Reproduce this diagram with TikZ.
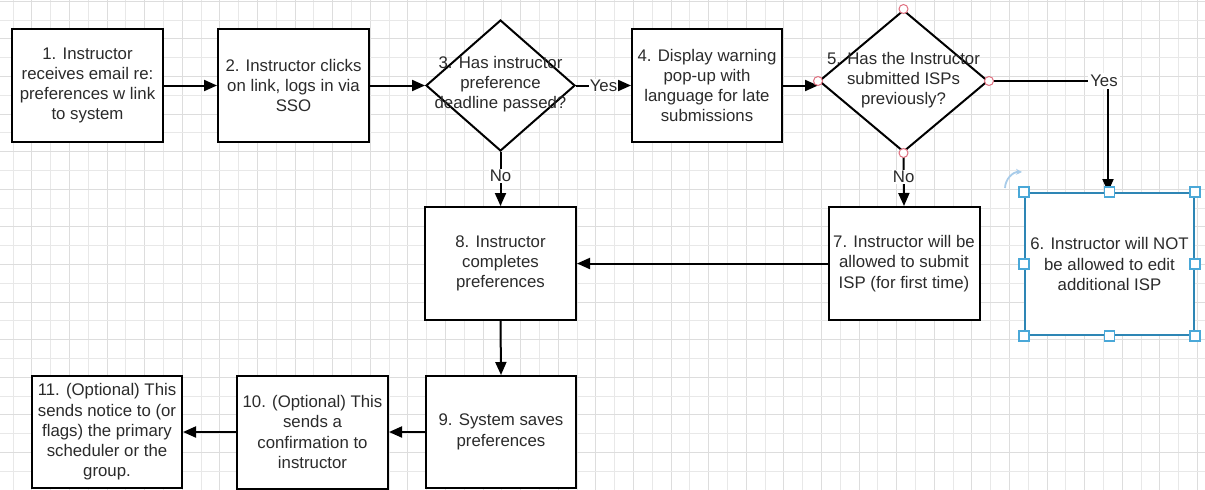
\documentclass[tikz,border=0pt]{standalone}
\usepackage{fontspec}
\setmainfont{Liberation Sans}
\usetikzlibrary{arrows.meta,shapes.geometric}
\definecolor{txtgray}{HTML}{2B2B2B}
\definecolor{gridA}{HTML}{E8E8E8}
\definecolor{gridB}{HTML}{DDDDDD}
\definecolor{selblue}{HTML}{2E86B5}
\definecolor{handleblue}{HTML}{4AA8D8}
\definecolor{rotblue}{HTML}{A8CCEA}
\definecolor{ptred}{HTML}{E07080}
\tikzset{
  stepbox/.style={draw=black, line width=2pt, fill=white, minimum width=151pt, minimum height=113pt,
    inner sep=0pt, align=center, text=txtgray, font=\fontsize{16.8}{20.3}\selectfont},
  decision/.style={diamond, draw=black, line width=2pt, fill=white, inner sep=0pt},
  dtext/.style={align=center, text=txtgray, font=\fontsize{16.8}{20.3}\selectfont},
  conn/.style={draw=black, line width=2pt, -{Triangle[length=13pt,width=11pt]}},
  plain/.style={draw=black, line width=2pt},
  elabel/.style={fill=white, inner sep=1pt, text=txtgray, font=\fontsize{16.8}{20.3}\selectfont},
  vpoint/.style={circle, draw=ptred, fill=white, line width=1pt, minimum size=9pt, inner sep=0pt},
  handle/.style={rectangle, draw=handleblue, fill=white, line width=1.2pt, minimum size=10pt, inner sep=0pt},
  gridlight/.style={draw=gridA, line width=1pt},
  griddark/.style={draw=gridB, line width=1pt},
}
\begin{document}
\begin{tikzpicture}[x=1pt, y=-1pt]
\useasboundingbox (0,0) rectangle (1205,490);
\fill[white] (0,0) rectangle (1205,490);
% grid
\foreach \i in {0,...,64} {
  \pgfmathsetmacro{\gx}{round(12.5+18.8*\i)+0.5}
  \pgfmathtruncatemacro{\odd}{mod(\i,2)}
  \ifnum\odd=1 \draw[griddark] (\gx,0) -- (\gx,490); \else \draw[gridlight] (\gx,0) -- (\gx,490); \fi
}
\foreach \j in {0,...,26} {
  \pgfmathsetmacro{\gy}{round(0.7+18.8*\j)+0.5}
  \pgfmathtruncatemacro{\odd}{mod(\j,2)}
  \ifnum\odd=0 \draw[griddark] (0,\gy) -- (1205,\gy); \else \draw[gridlight] (0,\gy) -- (1205,\gy); \fi
}

% nodes
\node[stepbox] (b1) at (87.5,85.5) {1. Instructor\\receives email re:\\preferences w link\\to system};
\node[stepbox] (b2) at (293.5,85.5) {2. Instructor clicks\\on link, logs in via\\SSO};
\node[decision, minimum width=149pt, minimum height=131pt] (d3) at (500.5,85.5) {};
\node[dtext] (t3) at (500.5,84) {3. Has instructor\\preference\\deadline passed?};
\node[stepbox, minimum width=150pt] (b4) at (707,85.5) {4. Display warning\\pop-up with\\language for late\\submissions};
\node[decision, minimum width=169pt, minimum height=142pt] (d5) at (903.5,81) {};
\node[dtext] (t5) at (903.5,80) {5. Has the Instructor\\submitted ISPs\\previously?};
\node[stepbox, draw=selblue, minimum width=169pt, minimum height=142pt] (b6) at (1109.5,264) {6. Instructor will NOT\\be allowed to edit\\additional ISP};
\node[stepbox] (b7) at (904,263.5) {7. Instructor will be\\allowed to submit\\ISP (for first time)};
\node[stepbox] (b8) at (500.5,263.5) {8. Instructor\\completes\\preferences};
\node[stepbox, minimum width=150pt, minimum height=112pt] (b9) at (501,432) {9. System saves\\preferences};
\node[stepbox] (b10) at (312.5,432) {10. (Optional) This\\sends a\\confirmation to\\instructor};
\node[stepbox, minimum width=150pt, minimum height=112pt] (b11) at (107,432) {11. (Optional) This\\sends notice to (or\\flags) the primary\\scheduler or the\\group.};

% connectors
\draw[conn] (b1) -- (b2);
\draw[conn] (b2.east) -- (d3.west);
\draw[conn] (d3.east) -- node[elabel] {Yes} (b4.west);
\draw[conn] (b4.east) -- (d5.west |- b4.east);
\coordinate (c5) at (1108,81);
\draw[plain] (d5.east) -- (c5);
\draw[conn] (c5) -- (c5 |- b6.north);
\node[elabel, inner sep=2pt] (y5) at (1104,81) {Yes};
\draw[conn] (d3.south) -- node[elabel, pos=0.45] {No} (b8.north);
\draw[conn] (d5.south) -- node[elabel, pos=0.45] {No} (b7.north);
\draw[conn] (b7.west) -- (b8.east);
\draw[conn] (b8.south) -- (b9.north);
\draw[conn] (b9.west) -- (b10.east);
\draw[conn] (b10.west) -- (b11.east);

% connection points on decision 5
\foreach \a in {north,south,east,west} \node[vpoint] at (d5.\a) {};

% selection handles on box 6
\foreach \a in {north west,north,north east,east,south east,south,south west,west}
  \node[handle] at (b6.\a) {};
% rotate icon
\coordinate (r1) at (1005,188);
\coordinate (r2) at (1022,172);
\draw[rotblue, line width=1.8pt, -{Stealth[length=6pt,width=6pt]}] (r1) to[bend left=45] (r2);
\end{tikzpicture}
\end{document}
